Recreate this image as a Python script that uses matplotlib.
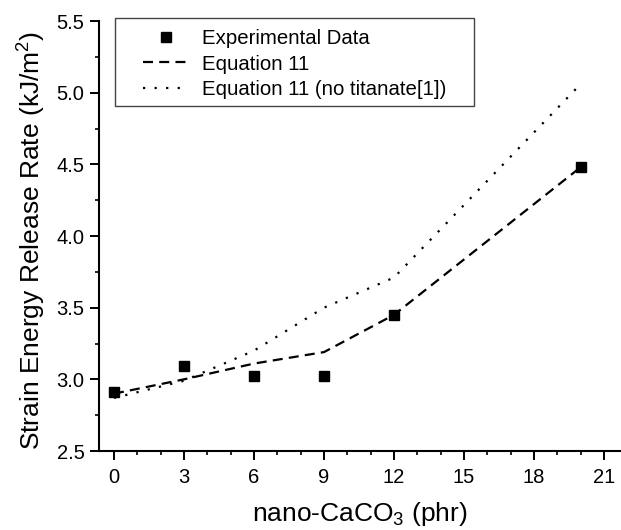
import matplotlib
matplotlib.use("Agg")
import matplotlib.pyplot as plt
from matplotlib.ticker import MultipleLocator
from matplotlib.patches import Rectangle

plt.rcParams['font.family'] = ['Liberation Sans', 'DejaVu Sans']
plt.rcParams['mathtext.fontset'] = 'custom'
plt.rcParams['mathtext.rm'] = 'Liberation Sans'
plt.rcParams['mathtext.it'] = 'Liberation Sans:italic'
plt.rcParams['mathtext.bf'] = 'Liberation Sans:bold'

# Data
x_exp = [0, 3, 6, 9, 12, 20]
y_exp = [2.91, 3.09, 3.02, 3.02, 3.45, 4.48]

x_eq11 = [0, 3, 6, 9, 12, 20]
y_eq11 = [2.90, 3.00, 3.11, 3.19, 3.45, 4.48]

x_eq11_nt = [0, 3, 6, 9, 12, 20]
y_eq11_nt = [2.87, 2.99, 3.20, 3.50, 3.71, 5.06]

labels = ["Experimental Data", "Equation 11", "Equation 11 (no titanate[1])"]
xticks = [0, 3, 6, 9, 12, 15, 18, 21]
yticks = [2.5, 3.0, 3.5, 4.0, 4.5, 5.0, 5.5]

W, H = 621, 530
fig = plt.figure(figsize=(W/100, H/100), dpi=100)
ax = fig.add_axes([99/W, 1-451/H, (W-99)/W, (451-21)/H])

ax.plot(x_eq11, y_eq11, color='black', lw=1.6, linestyle=(0, (4.5, 2.8)),
        label=labels[1], zorder=2)
ax.plot(x_eq11_nt, y_eq11_nt, color='black', lw=1.6, linestyle=(0, (1, 4.2)),
        label=labels[2], zorder=2)
ax.plot(x_exp, y_exp, linestyle='none', marker='s', markersize=6.5,
        color='black', label=labels[0], zorder=3)

ax.set_xlim(-0.643, 21.73)
ax.set_ylim(2.5, 5.5)
ax.set_xticks(xticks)
ax.set_yticks(yticks)
ax.set_yticklabels([f"{v:.1f}" for v in yticks])
ax.xaxis.set_minor_locator(MultipleLocator(1))
ax.yaxis.set_minor_locator(MultipleLocator(0.25))

for s in ['top', 'right']:
    ax.spines[s].set_visible(False)
for s in ['left', 'bottom']:
    ax.spines[s].set_linewidth(1.5)

ax.tick_params(which='major', direction='out', length=6.5, width=1.4, labelsize=14.5)
ax.tick_params(axis='x', which='major', pad=6)
ax.tick_params(axis='y', which='major', pad=4)
ax.tick_params(which='minor', direction='out', length=3.2, width=1.2)

ax.set_xlabel("nano-CaCO$_3$ (phr)", fontsize=19)
ax.xaxis.set_label_coords(0.5, -(528-451)/430)
ax.xaxis.label.set_va('bottom')
ax.set_ylabel("Strain Energy Release Rate (kJ/m$^2$)", fontsize=19)
ax.yaxis.set_label_coords(-(99-48)/(W-99), 0.49)

handles, labs = ax.get_legend_handles_labels()
order = [2, 0, 1]
leg = ax.legend([handles[i] for i in order], [labs[i] for i in order],
                loc='upper left', bbox_to_anchor=(143/W, 1-29/H),
                bbox_transform=fig.transFigure,
                fontsize=14.7, frameon=False, handlelength=2.25,
                handletextpad=0.64, labelspacing=0.32, borderpad=0,
                borderaxespad=0)

# legend frame
fig.patches.append(Rectangle((115/W, 1-106/H), (474-115)/W, (106-18)/H,
                             transform=fig.transFigure, fill=False,
                             edgecolor='#444444', linewidth=1.0, zorder=5))

fig.savefig("out.png", dpi=100)
